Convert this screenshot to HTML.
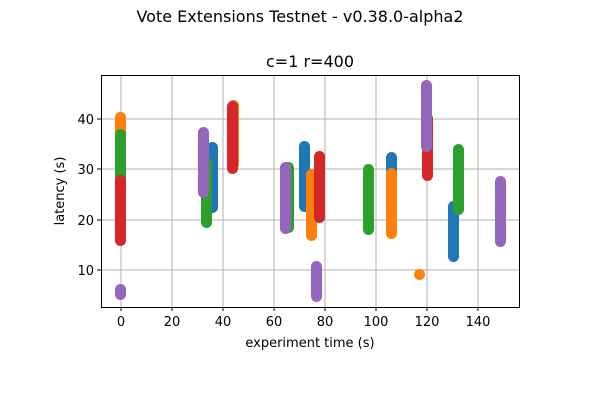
<!DOCTYPE html>
<html><head><style>body{margin:0;background:#fff}</style></head><body>
<svg width="600" height="400" xmlns="http://www.w3.org/2000/svg" font-family="DejaVu Sans, Liberation Sans, sans-serif">
<rect width="600" height="400" fill="#fff"/>
<text x="300" y="22" font-size="16" text-anchor="middle">Vote Extensions Testnet - v0.38.0-alpha2</text>
<text x="310" y="67" font-size="16" text-anchor="middle">c=1 r=400</text>
<g stroke="#b0b0b0" stroke-width="1">
<line x1="121" y1="75" x2="121" y2="307"/><line x1="172" y1="75" x2="172" y2="307"/>
<line x1="223" y1="75" x2="223" y2="307"/><line x1="274" y1="75" x2="274" y2="307"/>
<line x1="325" y1="75" x2="325" y2="307"/><line x1="376" y1="75" x2="376" y2="307"/>
<line x1="427" y1="75" x2="427" y2="307"/><line x1="478" y1="75" x2="478" y2="307"/>
<line x1="101" y1="270" x2="519" y2="270"/><line x1="101" y1="220" x2="519" y2="220"/>
<line x1="101" y1="169" x2="519" y2="169"/><line x1="101" y1="119" x2="519" y2="119"/>
</g>
<g>
<g fill="#1f77b4">
<rect x="207" y="142" width="11" height="71" rx="5.5"/>
<rect x="299" y="141" width="11" height="71" rx="5.5"/>
<rect x="386" y="152" width="11" height="30" rx="5.5"/>
<rect x="448" y="201" width="11" height="61" rx="5.5"/>
</g>
<g fill="#ff7f0e">
<rect x="115" y="112" width="11" height="40" rx="5.5"/>
<rect x="228" y="100" width="11" height="70" rx="5.5"/>
<rect x="306" y="169" width="11" height="72" rx="5.5"/>
<rect x="386" y="168" width="11" height="71" rx="5.5"/>
<rect x="414" y="269" width="11" height="11" rx="5.5"/>
</g>
<g fill="#2ca02c">
<rect x="115" y="129" width="11" height="60" rx="5.5"/>
<rect x="201" y="157" width="11" height="71" rx="5.5"/>
<rect x="283" y="162" width="11" height="71" rx="5.5"/>
<rect x="363" y="164" width="11" height="71" rx="5.5"/>
<rect x="453" y="144" width="11" height="71" rx="5.5"/>
</g>
<g fill="#d62728">
<rect x="115" y="175" width="11" height="71" rx="5.5"/>
<rect x="227" y="101" width="11" height="73" rx="5.5"/>
<rect x="314" y="151" width="11" height="72" rx="5.5"/>
<rect x="422" y="113" width="11" height="68" rx="5.5"/>
</g>
<g fill="#9467bd">
<rect x="115" y="284" width="11" height="16" rx="5.5"/>
<rect x="198" y="127" width="11" height="71" rx="5.5"/>
<rect x="280" y="162" width="11" height="72" rx="5.5"/>
<rect x="311" y="261" width="11" height="41" rx="5.5"/>
<rect x="421" y="80" width="11" height="72" rx="5.5"/>
<rect x="495" y="176" width="11" height="71" rx="5.5"/>
</g>
</g>
<rect x="101.5" y="75.5" width="418" height="232" fill="none" stroke="#000" stroke-width="1"/>
<g stroke="#000">
<line x1="121" y1="307" x2="121" y2="311"/><line x1="172" y1="307" x2="172" y2="311"/>
<line x1="223" y1="307" x2="223" y2="311"/><line x1="274" y1="307" x2="274" y2="311"/>
<line x1="325" y1="307" x2="325" y2="311"/><line x1="376" y1="307" x2="376" y2="311"/>
<line x1="427" y1="307" x2="427" y2="311"/><line x1="478" y1="307" x2="478" y2="311"/>
<line x1="97" y1="270" x2="101" y2="270"/><line x1="97" y1="220" x2="101" y2="220"/>
<line x1="97" y1="169" x2="101" y2="169"/><line x1="97" y1="119" x2="101" y2="119"/>
</g>
<g font-size="13" text-anchor="middle">
<text x="121" y="326">0</text><text x="172" y="326">20</text><text x="223" y="326">40</text>
<text x="274" y="326">60</text><text x="325" y="326">80</text><text x="376" y="326">100</text>
<text x="427" y="326">120</text><text x="478" y="326">140</text>
<text x="310" y="347">experiment time (s)</text>
</g>
<g font-size="13" text-anchor="end">
<text x="94" y="124" >40</text><text x="94" y="174">30</text><text x="94" y="225">20</text><text x="94" y="275">10</text>
</g>
<text transform="translate(64,191) rotate(-90)" font-size="13" text-anchor="middle">latency (s)</text>
</svg>
</body></html>
